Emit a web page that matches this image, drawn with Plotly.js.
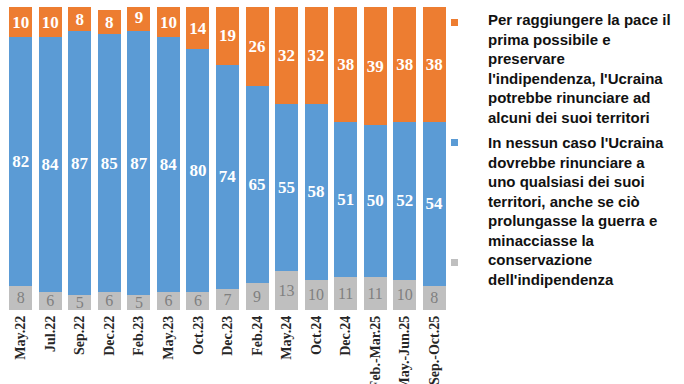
<!DOCTYPE html>
<html>
<head>
<meta charset="utf-8">
<script src="https://cdn.plot.ly/plotly-3.0.1.min.js"></script>
<style>html,body{margin:0;padding:0;background:#fff;}#chart{width:684px;height:384px;}</style>
</head>
<body>
<div id="chart"></div>
<script>
const categories = ["May.22","Jul.22","Sep.22","Dec.22","Feb.23","May.23","Oct.23","Dec.23","Feb.24","May.24","Oct.24","Dec.24","Feb.-Mar.25","May.-Jun.25","Sep.-Oct.25"];
const hardToSay = [8,6,5,6,5,6,6,7,9,13,10,11,11,10,8];
const neverGiveUp = [82,84,87,85,87,84,80,74,65,55,58,51,50,52,54];
const mayGiveUp = [10,10,8,8,9,10,14,19,26,32,32,38,39,38,38];
const legendOrange = "Per raggiungere la pace il<br>prima possibile e<br>preservare<br>l'indipendenza, l'Ucraina<br>potrebbe rinunciare ad<br>alcuni dei suoi territori";
const legendBlue = "In nessun caso l'Ucraina<br>dovrebbe rinunciare a<br>uno qualsiasi dei suoi<br>territori, anche se ciò<br>prolungasse la guerra e<br>minacciasse la<br>conservazione<br>dell'indipendenza";

const common = {type:'bar', x:categories, textposition:'inside', insidetextanchor:'middle', textangle:0, constraintext:'none', hoverinfo:'skip'};
const traces = [
  Object.assign({}, common, {y:hardToSay, text:hardToSay.map(String), marker:{color:'#BFBFBF'},
    textfont:{family:'Liberation Serif', size:16, color:'#7F7F7F'}}),
  Object.assign({}, common, {y:neverGiveUp, text:neverGiveUp.map(String), marker:{color:'#5B9BD5'},
    textfont:{family:'Liberation Serif', size:17, color:'#FFFFFF', weight:'bold'}}),
  Object.assign({}, common, {y:mayGiveUp, text:mayGiveUp.map(String), marker:{color:'#ED7D31'},
    textfont:{family:'Liberation Serif', size:17, color:'#FFFFFF', weight:'bold'}})
];

const W = 443, H = 303, L = 6, T = 7;
function px(x){return (x-L)/W;}
function py(y){return (T+H-y)/H;}
function sq(x0,y0,color){return {type:'rect', xref:'paper', yref:'paper', x0:px(x0), x1:px(x0+7), y0:py(y0+7), y1:py(y0), fillcolor:color, line:{width:0}};}

const layout = {
  width:684, height:384,
  margin:{l:L, r:684-L-W, t:T, b:384-T-H},
  barmode:'stack', bargap:0.22,
  showlegend:false,
  paper_bgcolor:'#fff', plot_bgcolor:'#fff',
  xaxis:{type:'category', tickangle:-90, showgrid:false, zeroline:false, showline:false, ticks:'',
    tickfont:{family:'Liberation Serif', size:14, color:'#262626', weight:'bold'}, automargin:false, ticklabelstandoff:2},
  yaxis:{range:[0,100], visible:false, fixedrange:true},
  shapes:[sq(451,19,'#ED7D31'), sq(451,139,'#5B9BD5'), sq(451,259,'#BFBFBF')],
  annotations:[
    {xref:'paper', yref:'paper', x:px(486), y:py(9), xanchor:'left', yanchor:'top', align:'left', showarrow:false,
      text:legendOrange, font:{family:'Liberation Sans', size:15, color:'#111', weight:'bold'}},
    {xref:'paper', yref:'paper', x:px(486), y:py(132), xanchor:'left', yanchor:'top', align:'left', showarrow:false,
      text:legendBlue, font:{family:'Liberation Sans', size:15, color:'#111', weight:'bold'}}
  ]
};
Plotly.newPlot('chart', traces, layout, {displayModeBar:false, staticPlot:true});
</script>
</body>
</html>
